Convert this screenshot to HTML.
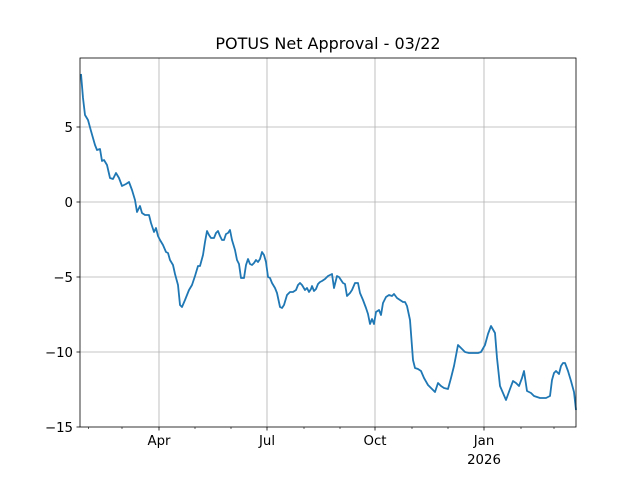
<!DOCTYPE html>
<html><head><meta charset="utf-8"><style>body{margin:0;background:#fff}svg{display:block}</style></head><body>
<svg width="640" height="480" xmlns="http://www.w3.org/2000/svg" font-family="DejaVu Sans, Liberation Sans, sans-serif">
<rect width="640" height="480" fill="#fff"/>
<g stroke="#b0b0b0" stroke-width="0.8">
<line x1="159" y1="58" x2="159" y2="427"/><line x1="267" y1="58" x2="267" y2="427"/><line x1="375" y1="58" x2="375" y2="427"/><line x1="484" y1="58" x2="484" y2="427"/>
<line x1="80" y1="127" x2="576" y2="127"/><line x1="80" y1="202" x2="576" y2="202"/><line x1="80" y1="277" x2="576" y2="277"/><line x1="80" y1="352" x2="576" y2="352"/>
</g>
<polyline fill="none" stroke="#1f77b4" stroke-width="1.8" stroke-linejoin="round" points="81,74 83,98 85,115 88,120 91,131 95,145 97,150 100,149 102,161 104,160 107,165 110,178 113,179 116,173 119,178 122,186 126,184 129,182 132,190 135,200 137,212 140,206 142,213 145,215 149,215 151,223 154,232 156,228 158,236 160,240 163,245 166,252 168,253 170,260 173,265 175,274 178,285 180,305 182,307 185,300 187,295 189,290 192,285 195,276 198,266 200,266 203,255 205,242 207,231 209,235 211,238 214,238 216,233 218,231 220,236 222,240 224,240 226,234 228,233 230,230 232,240 235,250 237,260 239,264 241,278 244,278 246,265 248,259 250,264 252,265 254,263 256,260 258,262 260,259 262,252 264,255 266,262 268,277 270,278 272,283 275,288 277,293 280,307 282,308 284,305 287,295 290,292 293,292 296,290 298,285 300,283 302,285 305,290 307,288 309,292 311,289 312,286 314,291 316,289 318,284 320,282 322,281 325,279 328,276 332,274 334,288 337,276 339,277 341,280 343,283 345,284 347,296 350,293 352,290 355,283 358,283 360,293 363,300 366,308 368,314 370,324 372,319 374,324 376,312 379,310 381,315 383,303 386,297 389,295 392,296 394,294 397,298 400,300 403,302 405,302 407,306 410,320 413,360 415,368 418,369 421,371 424,378 428,385 432,389 435,392 438,383 441,386 444,388 448,389 451,378 454,366 458,345 461,348 465,352 469,353 473,353 478,353 481,352 485,345 488,334 491,326 495,333 497,358 500,386 503,393 506,400 510,389 513,381 516,383 519,386 522,378 524,371 527,391 531,393 534,396 537,397 540,398 543,398 546,398 548,397 550,396 552,380 554,373 556,371 559,374 561,366 563,363 565,363 568,371 571,381 574,392 576,410"/>
<rect x="80" y="58" width="496" height="369" fill="none" stroke="#000" stroke-width="0.8"/>
<g stroke="#000" stroke-width="0.8">
<line x1="80" y1="127" x2="76.5" y2="127"/><line x1="80" y1="202" x2="76.5" y2="202"/><line x1="80" y1="277" x2="76.5" y2="277"/><line x1="80" y1="352" x2="76.5" y2="352"/><line x1="80" y1="427" x2="76.5" y2="427"/>
<line x1="159" y1="427" x2="159" y2="430.5"/><line x1="267" y1="427" x2="267" y2="430.5"/><line x1="375" y1="427" x2="375" y2="430.5"/><line x1="484" y1="427" x2="484" y2="430.5"/>
<g stroke-width="0.6"><line x1="88.5" y1="427" x2="88.5" y2="429"/><line x1="122" y1="427" x2="122" y2="429"/><line x1="195" y1="427" x2="195" y2="429"/><line x1="231" y1="427" x2="231" y2="429"/><line x1="304" y1="427" x2="304" y2="429"/><line x1="340" y1="427" x2="340" y2="429"/><line x1="412" y1="427" x2="412" y2="429"/><line x1="448" y1="427" x2="448" y2="429"/><line x1="521" y1="427" x2="521" y2="429"/><line x1="554" y1="427" x2="554" y2="429"/></g>
</g>
<g font-size="13.3" fill="#000">
<g text-anchor="end"><text x="73" y="132">5</text><text x="73" y="207">0</text><text x="73" y="282">−5</text><text x="73" y="357">−10</text><text x="73" y="432">−15</text></g>
<g text-anchor="middle"><text x="159" y="445">Apr</text><text x="267" y="445">Jul</text><text x="375" y="445">Oct</text><text x="484" y="445">Jan</text><text x="484" y="464">2026</text></g>
<text x="328" y="49" text-anchor="middle" font-size="16">POTUS Net Approval - 03/22</text>
</g>
</svg>
</body></html>
